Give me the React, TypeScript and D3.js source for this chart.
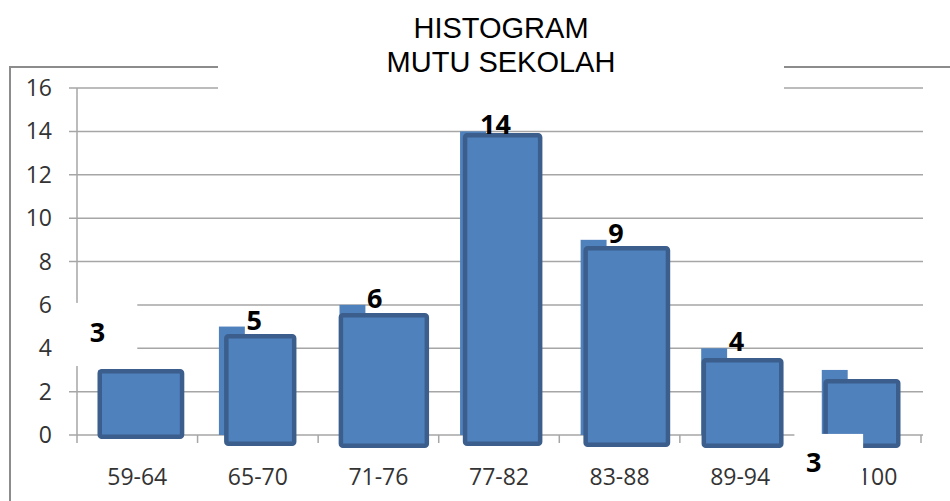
import React from 'react';
import * as d3 from 'd3';

const categories = ['59-64', '65-70', '71-76', '77-82', '83-88', '89-94', '95-100'];
const counts = [3, 5, 6, 14, 9, 4, 3];
const yTicks = [0, 2, 4, 6, 8, 10, 12, 14, 16];

// pasted outline shapes sitting over the real bars (category units / value units)
const overlayFrom = [0.17, 1.22, 2.17, 3.2, 4.2, 5.18, 6.19];
const overlayTo = [0.89, 1.82, 2.92, 3.86, 4.92, 5.86, 6.83];
const overlayTop = [3.04, 4.66, 5.62, 13.92, 8.71, 3.55, 2.58];
const overlayBottom = [-0.18, -0.51, -0.6, -0.51, -0.55, -0.6, -0.6];

// two labels that were dragged away from their bars, and the white patches behind them
const movedLabels = [
  { index: 0, at: 0.17, value: 4.29 },
  { index: 6, at: 6.11, value: -1.71 },
];
const whitePatches = [
  { from: -0.067, to: 0.5, top: 6.09, bottom: 3.18 },
  { from: 5.95, to: 6.52, top: 0.05, bottom: -3 },
];

const W = 950;
const H = 501;
const BAR = '#4F81BD';
const EDGE = '#3B5E8C';
const GRID = '#A6A6A6';
const FONT = "'Open Sans', 'Noto Sans', sans-serif";

export default function App() {
  const x = d3.scaleLinear().domain([0, categories.length]).range([77, 921]);
  const y = d3.scaleLinear().domain([0, 16]).range([435, 88]);
  const step = x(1) - x(0);
  const movedIdx = movedLabels.map((m) => m.index);

  return (
    <svg width={W} height={H} style={{ position: 'absolute', left: 0, top: 0, background: '#fff' }}>
      {/* chart frame */}
      <line x1={10} x2={W} y1={67} y2={67} stroke="#8C8C8C" strokeWidth={2} />
      <line x1={10} x2={10} y1={66} y2={H} stroke="#8C8C8C" strokeWidth={2} />

      {/* gridlines + y ticks */}
      {yTicks.map((t) => (
        <g key={t}>
          <line x1={69} x2={x(categories.length) + 2} y1={y(t)} y2={y(t)} stroke={GRID} strokeWidth={1.5} />
          <text x={52} y={y(t) + 8} textAnchor="end" fontFamily={FONT} fontSize={23} fill="#333">
            {t}
          </text>
        </g>
      ))}
      <line x1={x(0)} x2={x(0)} y1={y(16)} y2={443} stroke={GRID} strokeWidth={1.5} />
      {d3.range(1, categories.length + 1).map((i) => (
        <line key={i} x1={x(i)} x2={x(i)} y1={y(0)} y2={443} stroke={GRID} strokeWidth={1.5} />
      ))}
      {categories.map((c, i) => (
        <text key={c} x={x(i + 0.5)} y={485} textAnchor="middle" fontFamily={FONT} fontSize={23} fill="#333">
          {c}
        </text>
      ))}

      {/* real bars */}
      {counts.map((v, i) => (
        <rect key={i} x={x(i + 0.177)} width={step * 0.215} y={y(v)} height={y(0) - y(v)} fill={BAR} />
      ))}

      {/* outline shapes */}
      {overlayTop.map((t, i) => (
        <rect
          key={i}
          x={x(overlayFrom[i]) + 2.25}
          width={x(overlayTo[i]) - x(overlayFrom[i]) - 4.5}
          y={y(t) + 2.25}
          height={y(overlayBottom[i]) - y(t) - 4.5}
          rx={2}
          fill={BAR}
          stroke={EDGE}
          strokeWidth={4.5}
        />
      ))}

      {whitePatches.map((p, i) => (
        <rect key={i} x={x(p.from)} width={x(p.to) - x(p.from)} y={y(p.top)} height={y(p.bottom) - y(p.top)} fill="#fff" />
      ))}

      {/* data labels */}
      {counts.map((v, i) =>
        movedIdx.includes(i) ? null : (
          <text key={i} x={x(i + 0.47)} y={y(v) + 3} textAnchor="middle" fontFamily={FONT} fontWeight="bold" fontSize={27} fill="#000">
            {v}
          </text>
        )
      )}
      {movedLabels.map((m) => (
        <text key={m.index} x={x(m.at)} y={y(m.value)} textAnchor="middle" fontFamily={FONT} fontWeight="bold" fontSize={27} fill="#000">
          {counts[m.index]}
        </text>
      ))}

      {/* title box */}
      <rect x={218} y={0} width={566} height={100} fill="#fff" />
      <text x={501} y={38} textAnchor="middle" fontFamily="'Liberation Sans', Arial, sans-serif" fontSize={29} fill="#000">
        HISTOGRAM
      </text>
      <text x={501} y={72} textAnchor="middle" fontFamily="'Liberation Sans', Arial, sans-serif" fontSize={29} fill="#000">
        MUTU SEKOLAH
      </text>
    </svg>
  );
}
